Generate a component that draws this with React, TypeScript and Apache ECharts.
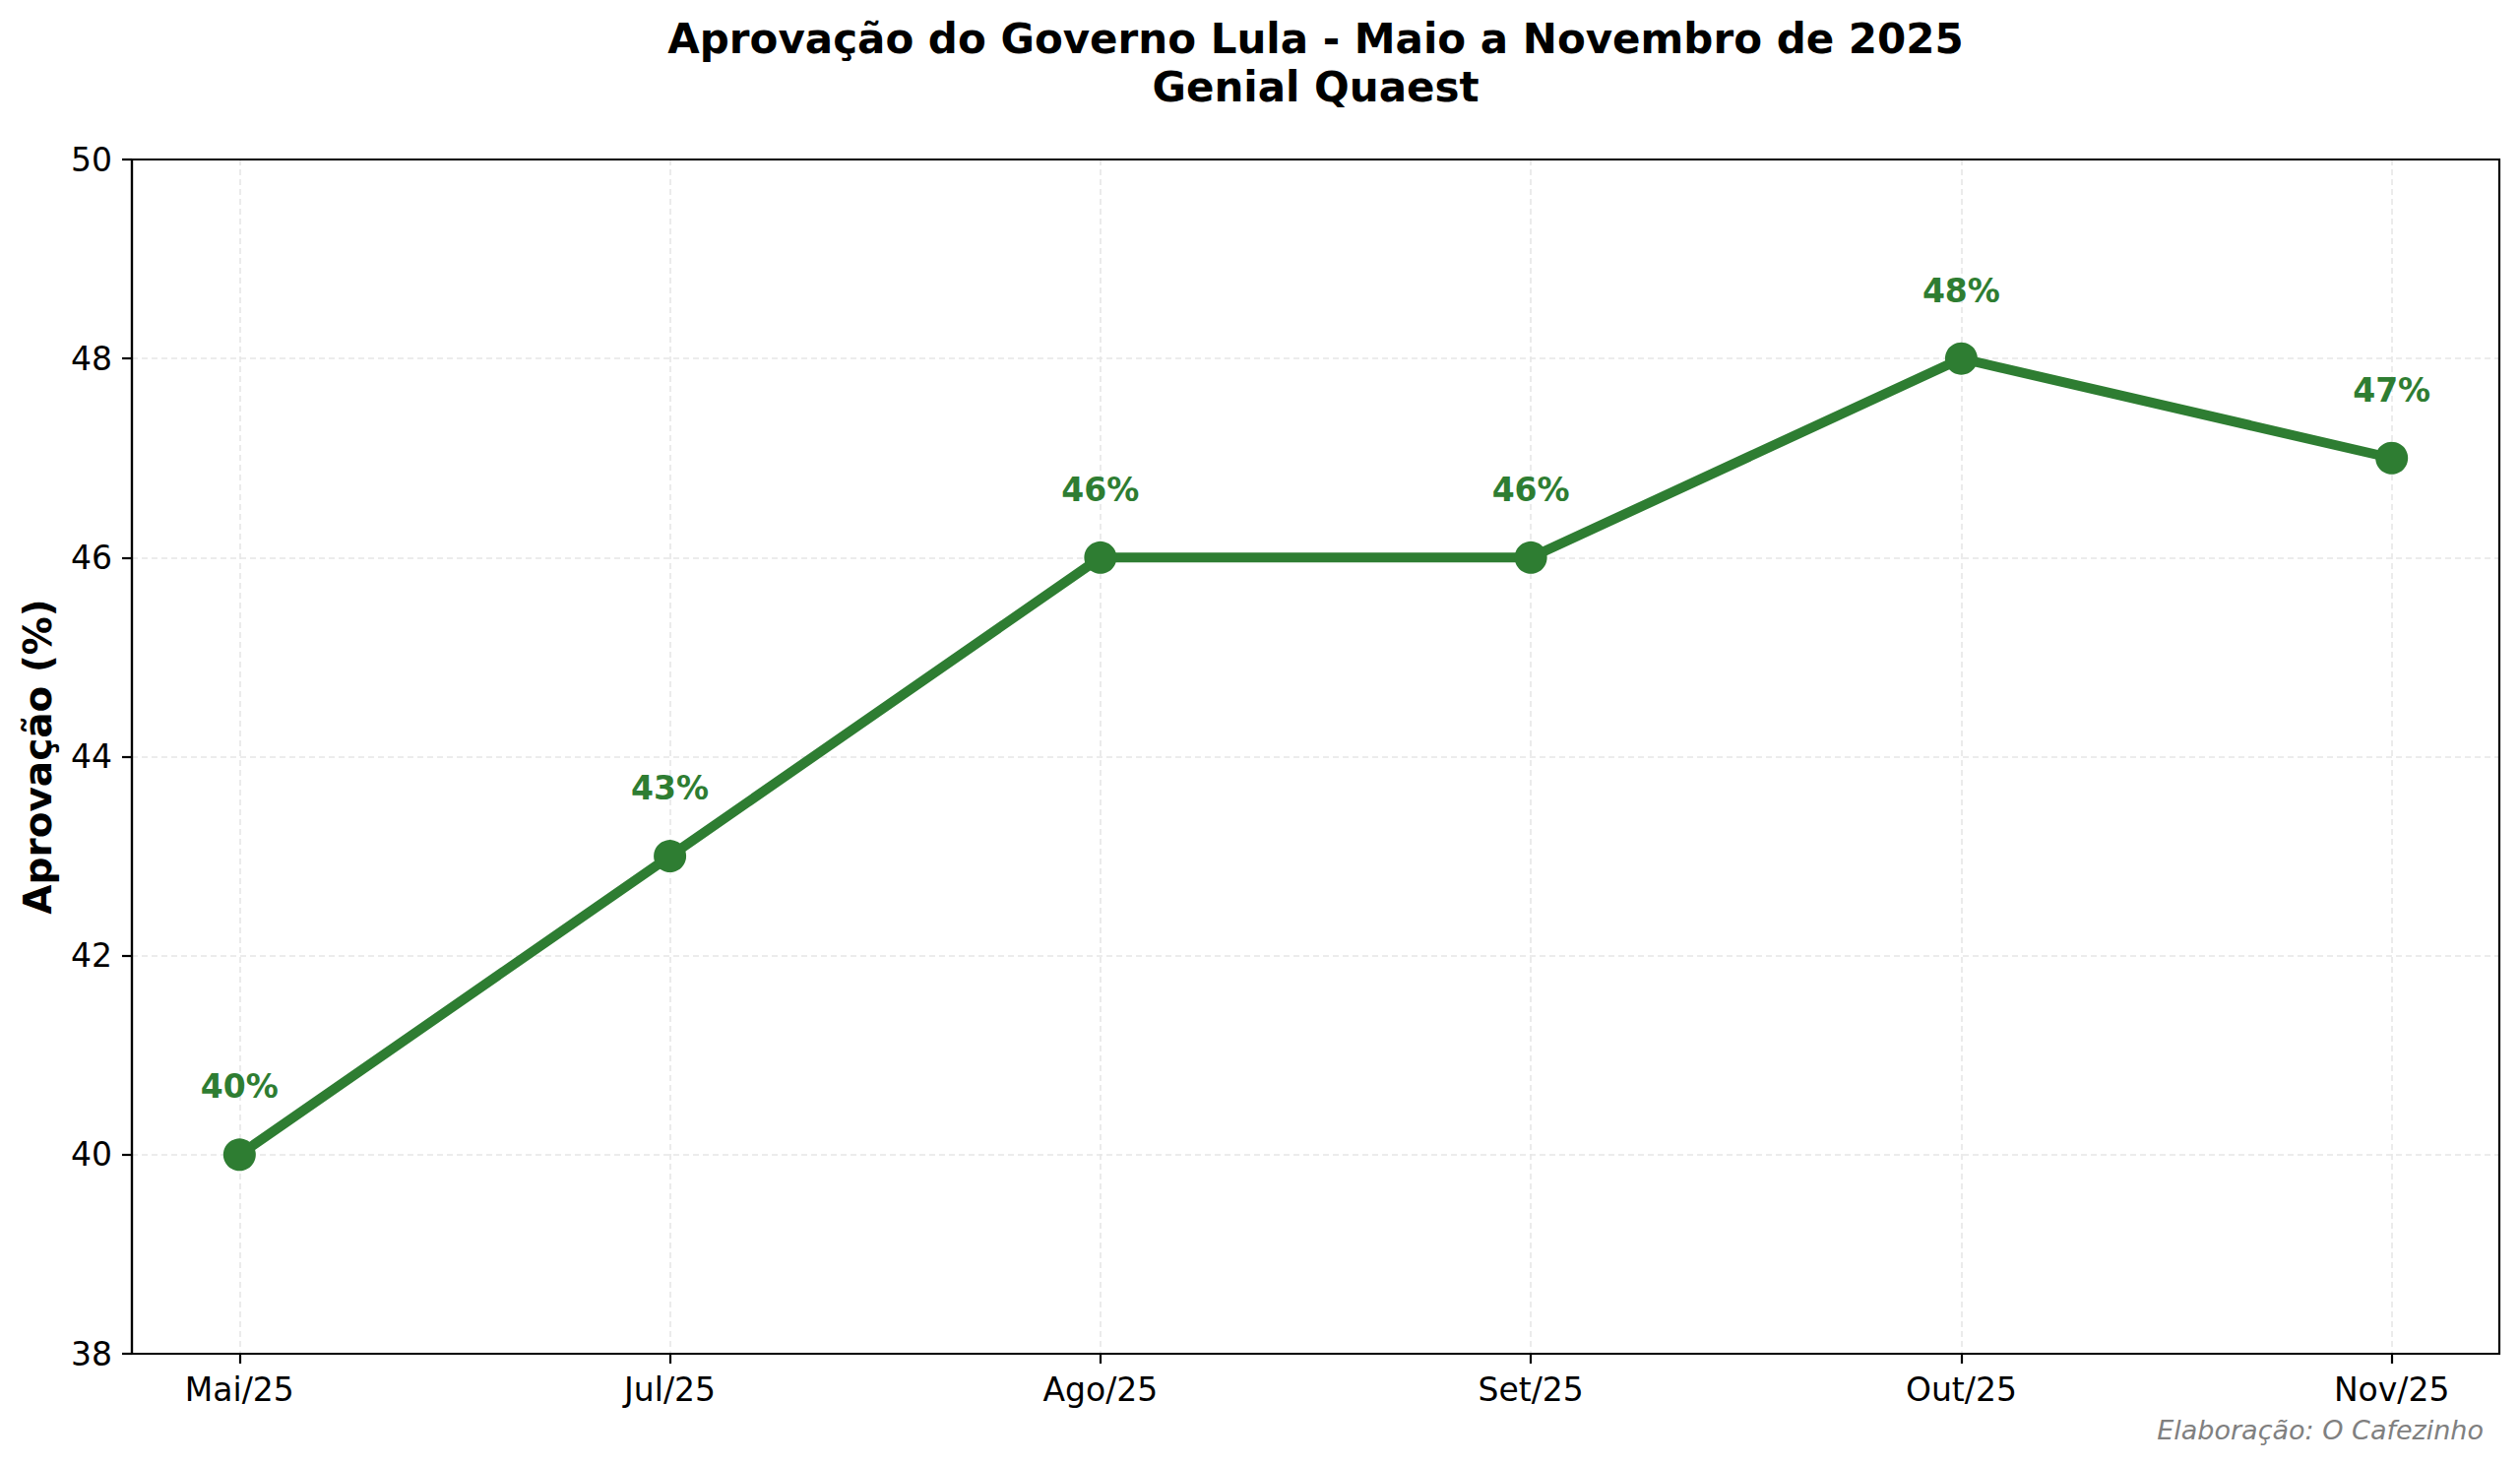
import React, { useEffect, useRef } from "react";
import * as echarts from "echarts";

const categories = ["Mai/25", "Jul/25", "Ago/25", "Set/25", "Out/25", "Nov/25"];
const approval = [40, 43, 46, 46, 48, 47];
const yTicks = [38, 40, 42, 44, 46, 48, 50];
const titleLine1 = "Aprovação do Governo Lula - Maio a Novembro de 2025";
const titleLine2 = "Genial Quaest";
const yAxisTitle = "Aprovação (%)";
const credit = "Elaboração: O Cafezinho";

const GREEN = "#2e7d32";
const FONT = "DejaVu Sans";

export default function App() {
  const ref = useRef<HTMLDivElement>(null);
  useEffect(() => {
    if (!ref.current) return;
    const chart = echarts.init(ref.current, null, { renderer: "svg" });
    const idx = categories.map((_, i) => i);
    const data = approval.map((v, i) => [i, v]);
    const gridLeft = 134, gridRight = 21, gridTop = 162, gridBottom = 113;
    const W = 2560, H = 1488;
    const axesCenterX = (gridLeft + (W - gridRight)) / 2;
    const axesCenterY = (gridTop + (H - gridBottom)) / 2;
    chart.setOption({
      animation: false,
      backgroundColor: "#ffffff",
      textStyle: { fontFamily: FONT },
      grid: {
        left: gridLeft,
        right: gridRight,
        top: gridTop,
        bottom: gridBottom,
        show: false,
        containLabel: false,
      },
      xAxis: {
        type: "value",
        min: -0.25,
        max: 5.25,
        axisLine: { show: true, onZero: false, lineStyle: { color: "#000", width: 2.2 } },
        axisTick: {
          show: true,
          customValues: idx,
          length: 10,
          lineStyle: { color: "#000", width: 2.2 },
        },
        axisLabel: {
          customValues: idx,
          formatter: (v: number) => categories[Math.round(v)] ?? "",
          color: "#000",
          fontSize: 33,
          fontFamily: FONT,
          margin: 20,
        },
        splitLine: {
          show: true,
          lineStyle: { color: "#e6e6e6", width: 1.6, type: [6, 4] },
        },
      },
      yAxis: {
        type: "value",
        min: yTicks[0],
        max: yTicks[yTicks.length - 1],
        interval: 2,
        axisLine: { show: true, onZero: false, lineStyle: { color: "#000", width: 2.2 } },
        axisTick: { show: true, length: 10, lineStyle: { color: "#000", width: 2.2 } },
        axisLabel: {
          color: "#000",
          fontSize: 33,
          fontFamily: FONT,
          margin: 20,
        },
        splitLine: {
          show: true,
          lineStyle: { color: "#e6e6e6", width: 1.6, type: [6, 4] },
        },
      },
      series: [
        {
          type: "line",
          data,
          lineStyle: { color: GREEN, width: 10 },
          itemStyle: { color: GREEN },
          symbol: "circle",
          symbolSize: 33,
          label: {
            show: true,
            position: "top",
            distance: 36,
            formatter: (p: any) => `${p.value[1]}%`,
            color: GREEN,
            fontSize: 33,
            fontWeight: "bold",
            fontFamily: FONT,
          },
          z: 3,
        },
      ],
      graphic: [
        {
          type: "rect",
          z: 100,
          shape: {
            x: gridLeft,
            y: gridTop,
            width: W - gridRight - gridLeft,
            height: H - gridBottom - gridTop,
          },
          style: { fill: "none", stroke: "#000", lineWidth: 2.2 },
          silent: true,
        },
        {
          type: "text",
          x: axesCenterX,
          y: 39,
          style: {
            text: titleLine1,
            fontSize: 42,
            fontWeight: "bold",
            fontFamily: FONT,
            fill: "#000",
            textAlign: "center",
            textVerticalAlign: "middle",
          },
        },
        {
          type: "text",
          x: axesCenterX,
          y: 88,
          style: {
            text: titleLine2,
            fontSize: 42,
            fontWeight: "bold",
            fontFamily: FONT,
            fill: "#000",
            textAlign: "center",
            textVerticalAlign: "middle",
          },
        },
        {
          type: "text",
          x: 38,
          y: axesCenterY,
          rotation: Math.PI / 2,
          style: {
            text: yAxisTitle,
            fontSize: 39,
            fontWeight: "bold",
            fontFamily: FONT,
            fill: "#000",
            textAlign: "center",
            textVerticalAlign: "middle",
          },
        },
        {
          type: "text",
          x: 2523,
          y: 1452,
          style: {
            text: credit,
            fontSize: 27,
            fontStyle: "italic",
            fontFamily: FONT,
            fill: "#808080",
            textAlign: "right",
            textVerticalAlign: "middle",
          },
        },
      ],
    });
    return () => chart.dispose();
  }, []);
  return (
    <div
      ref={ref}
      style={{ position: "absolute", left: 0, top: 0, width: 2560, height: 1488 }}
    />
  );
}
